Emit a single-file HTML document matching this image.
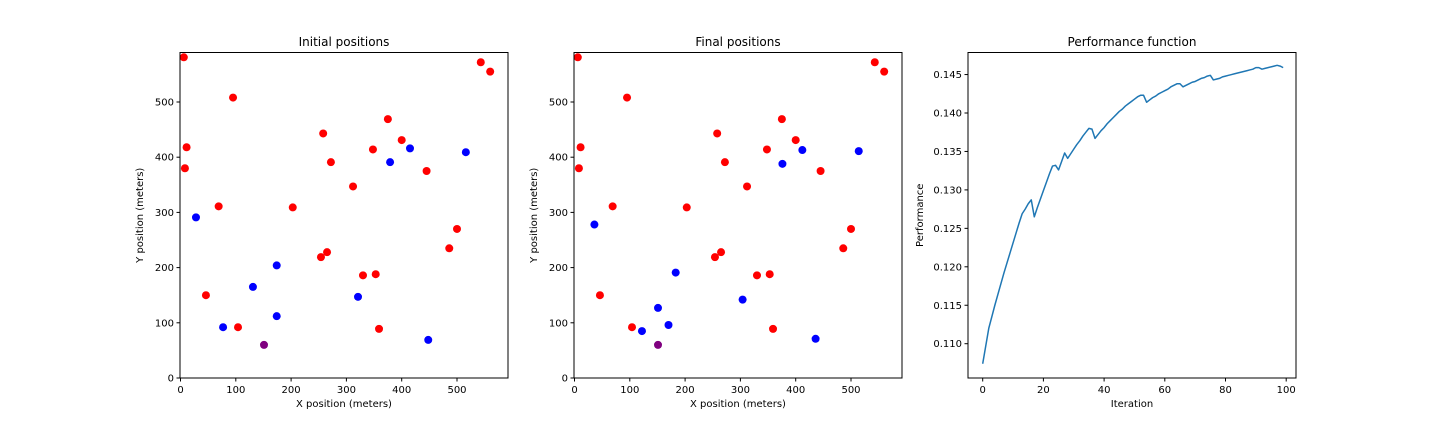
<!DOCTYPE html>
<html><head><meta charset="utf-8"><style>
html,body{margin:0;padding:0;background:#fff;}
svg{display:block;font-family:"DejaVu Sans","Liberation Sans",sans-serif;}
</style></head><body>
<svg id="fig" width="1440" height="432" viewBox="0 0 1440 432" xmlns="http://www.w3.org/2000/svg"></svg>
<script>
const redX=[6,95,11,8,69,203,258,272,375,400,348,312,445,543,560,500,486,254,265,330,353,46,104,359];
const redY=[581,508,418,380,311,309,443,391,469,431,414,347,375,572,555,270,235,219,228,186,188,150,92,89];
const blueInitX=[28,174,131,77,174,321,379,415,516,448];
const blueInitY=[291,204,165,92,112,147,391,416,409,69];
const blueFinalX=[36,183,151,170,122,304,376,412,514,436];
const blueFinalY=[278,191,127,96,85,142,388,413,411,71];
const purpleX=[151];
const purpleY=[60];
const scatterTicks=[0,100,200,300,400,500];
const perf=[0.1074,0.1097,0.1120,0.1135,0.1150,0.1164,0.1178,0.1192,0.1205,0.1218,
0.1231,0.1244,0.1257,0.1269,0.1275,0.1282,0.1287,0.1265,0.1277,0.1288,
0.1299,0.1310,0.1321,0.1331,0.1332,0.1326,0.1337,0.1348,0.1341,0.1347,
0.1353,0.1359,0.1364,0.1370,0.1375,0.1380,0.1379,0.1367,0.1372,0.1377,
0.1381,0.1386,0.1390,0.1394,0.1398,0.1402,0.1405,0.1409,0.1412,0.1415,
0.1418,0.1421,0.1423,0.1423,0.1414,0.1417,0.1420,0.1422,0.1425,0.1427,
0.1429,0.1431,0.1434,0.1436,0.1438,0.1438,0.1434,0.1436,0.1438,0.1440,
0.1441,0.1443,0.1445,0.1446,0.1448,0.1449,0.1443,0.1444,0.1445,0.1447,
0.1448,0.1449,0.1450,0.1451,0.1452,0.1453,0.1454,0.1455,0.1456,0.1457,
0.1459,0.1459,0.1457,0.1458,0.1459,0.1460,0.1461,0.1462,0.1461,0.1459];
const perfXTicks=[0,20,40,60,80,100];
const perfYTicks=[0.110,0.115,0.120,0.125,0.130,0.135,0.140,0.145];

const NS="http://www.w3.org/2000/svg";
const svg=document.getElementById('fig');
function mk(tag,attrs,parent){const e=document.createElementNS(NS,tag);for(const k in attrs)e.setAttribute(k,attrs[k]);(parent||svg).appendChild(e);return e;}
function txt(s,x,y,anchor,size,parent,rot){const t=mk('text',{x:x,y:y,'text-anchor':anchor,'font-size':size,fill:'#000'},parent);if(rot)t.setAttribute('transform',`rotate(-90 ${x} ${y})`);t.textContent=s;return t;}

function axesFrame(g,L,T,R,B,title,xl,yl,yOff){
  txt(title,(L+R)/2,46,'middle',12,g);
  const xt=txt(xl,(L+R)/2,407,'middle',10,g);
  const yt=txt(yl,L-yOff,(T+B)/2,'middle',10,g,true);
}
function frame(g,L,T,R,B){
  const r=mk('rect',{x:L,y:T,width:R-L,height:B-T,fill:'none',stroke:'#000','stroke-width':1},g);
  
}

function scatterPanel(L,title,bx,by,name){
  const T=52.5,B=378,R=L+328;
  const g=mk('g',{});
  
  
  const sx=v=>L+0.5+v*0.553, sy=v=>B-v*0.552;
  scatterTicks.forEach(t=>{
    const x=sx(t);
    mk('line',{x1:x,x2:x,y1:B,y2:B+3.5,stroke:'#000'},g);
    const l=txt(String(t),x,B+15,'middle',10,g);
    
    const y=sy(t);
    mk('line',{x1:L,x2:L-3.5,y1:y,y2:y,stroke:'#000'},g);
    const m=txt(String(t),L-6,y+3.5,'end',10,g);
    
  });
  function pts(xs,ys,col,nm){
    xs.forEach((v,i)=>{
      const c=mk('circle',{cx:sx(v),cy:sy(ys[i]),r:4,fill:col},g);
      
      
    });
  }
  pts(redX,redY,'#ff0000','red-point');
  pts(bx,by,'#0000ff','blue-point');
  pts(purpleX,purpleY,'#800080','purple-point');
  frame(g,L,T,R,B);
  axesFrame(g,L,T,R,B,title,'X position (meters)','Y position (meters)',37);
}
scatterPanel(180,'Initial positions',blueInitX,blueInitY,'initial-positions-chart');
scatterPanel(574,'Final positions',blueFinalX,blueFinalY,'final-positions-chart');

(function(){
  const L=968,T=52.5,R=1296,B=378;
  const g=mk('g',{});
  
  
  const sx=v=>982.7+v*3.035, sy=v=>343.7-(v-0.110)/0.005*38.45;
  perfXTicks.forEach(t=>{
    const x=sx(t);
    mk('line',{x1:x,x2:x,y1:B,y2:B+3.5,stroke:'#000'},g);
    const l=txt(String(t),x,B+15,'middle',10,g);
    
  });
  perfYTicks.forEach(t=>{
    const y=sy(t);
    mk('line',{x1:L,x2:L-3.5,y1:y,y2:y,stroke:'#000'},g);
    const l=txt(t.toFixed(3),L-6,y+3.5,'end',10,g);
    
  });
  const d=perf.map((v,i)=>(i?'L':'M')+sx(i).toFixed(2)+','+sy(v).toFixed(2)).join(' ');
  const p=mk('path',{d:d,fill:'none',stroke:'#1f77b4','stroke-width':1.5,'stroke-linejoin':'round'},g);
  
  
  frame(g,L,T,R,B);
  axesFrame(g,L,T,R,B,'Performance function','Iteration','Performance',45);
})();
</script>
</body></html>
